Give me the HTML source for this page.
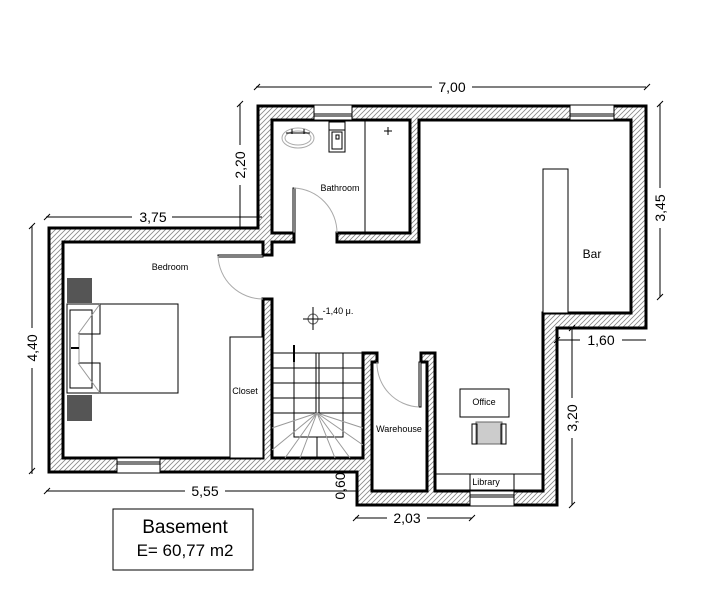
<!DOCTYPE html>
<html><head><meta charset="utf-8"><style>
html,body{margin:0;padding:0;background:#fff;width:703px;height:589px;overflow:hidden}
svg{display:block}
text{font-family:"Liberation Sans",Arial,sans-serif;fill:#000}
</style></head><body>
<svg width="703" height="589" viewBox="0 0 703 589" xmlns="http://www.w3.org/2000/svg">
<defs>
<pattern id="h" width="5" height="5" patternUnits="userSpaceOnUse">
<rect width="5" height="5" fill="#fff"/>
<path d="M-1,6 L6,-1 M-1,1 L1,-1 M4,6 L6,4" stroke="#888" stroke-width="0.8"/>
</pattern>
</defs>
<!-- walls -->
<path d="M258,106 L646,106 L646,328 L557,328 L557,505 L357,505 L357,472 L49,472 L49,228 L258,228 Z" fill="url(#h)" stroke="#000" stroke-width="3"/>
<path d="M63,242 L263,242 L263,255 L272,255 L272,242 L294,242 L294,233 L272,233 L272,120 L410,120 L410,233 L337,233 L337,242 L419,242 L419,120 L631,120 L631,313 L543,313 L543,491 L435,491 L435,353 L421,353 L421,362 L427,362 L427,491 L372,491 L372,362 L377,362 L377,353 L363,353 L363,458 L272,458 L272,299 L263,299 L263,458 L63,458 Z" fill="#fff" stroke="#000" stroke-width="3"/>
<!-- windows -->
<g fill="#fff" stroke="#000" stroke-width="1">
<rect x="314" y="105" width="38" height="15"/><line x1="314" y1="114" x2="352" y2="114"/><line x1="314" y1="116" x2="352" y2="116"/>
<rect x="570" y="105" width="44" height="15"/><line x1="570" y1="114" x2="614" y2="114"/><line x1="570" y1="116" x2="614" y2="116"/>
<rect x="117" y="458" width="43" height="15"/><line x1="117" y1="462" x2="160" y2="462"/><line x1="117" y1="464" x2="160" y2="464"/>
<rect x="470" y="491" width="44" height="15"/><line x1="470" y1="495" x2="514" y2="495"/><line x1="470" y1="497" x2="514" y2="497"/>
</g>
<!-- doors -->
<g fill="none">
<rect x="293" y="188" width="2" height="45" fill="#fff" stroke="#000" stroke-width="1"/>
<path d="M294,188 A45,45 0 0 1 337,233" stroke="#aaa"/>
<rect x="218" y="255" width="45" height="2" fill="#fff" stroke="#000" stroke-width="1"/>
<path d="M218,256 A45,45 0 0 0 263,299" stroke="#aaa"/>
<rect x="419" y="362" width="2" height="45" fill="#fff" stroke="#000" stroke-width="1"/>
<path d="M377,362 A44,44 0 0 0 419,407" stroke="#aaa"/>
</g>
<!-- bathroom fixtures -->
<g stroke="#000" fill="none" stroke-width="1">
<line x1="365" y1="120" x2="365" y2="233"/>
<ellipse cx="298" cy="138" rx="16" ry="10" stroke="#aaa"/><ellipse cx="298" cy="138" rx="13" ry="7" stroke="#aaa"/>
<line x1="286" y1="133" x2="310" y2="133"/><line x1="292" y1="129" x2="292" y2="134"/><line x1="304" y1="129" x2="304" y2="134"/>
<rect x="329" y="122" width="16" height="30"/><line x1="329" y1="130" x2="345" y2="130"/><rect x="332" y="132" width="10" height="17"/><rect x="336" y="135" width="3" height="4"/>
<line x1="384" y1="131" x2="392" y2="131"/><line x1="388" y1="127" x2="388" y2="135"/>
<!-- bar -->
<rect x="543" y="169" width="25" height="144" fill="#fff"/>
<!-- bed -->
<rect x="67" y="304" width="111" height="89"/>
<rect x="70" y="310" width="22" height="78"/>
<path d="M100,304 L100,334 L79,334 L79,363 L100,363 L100,393" />
<path d="M100,304 L78,334 M100,393 L78,363 M79,334 L79,363" stroke="#999"/>
<line x1="71" y1="348" x2="79" y2="348" stroke-width="2"/>
<rect x="230" y="337" width="33" height="121" fill="#fff"/>
<!-- office -->
<rect x="460" y="389" width="49" height="28"/>
<rect x="476" y="422" width="26" height="22" fill="#ccc" stroke="#666"/>
<rect x="472" y="424" width="5" height="20"/><rect x="501" y="424" width="5" height="20"/>
<rect x="435" y="474" width="108" height="17"/><line x1="470" y1="474" x2="470" y2="491"/><line x1="514" y1="474" x2="514" y2="491"/>
<!-- level marker -->
<circle cx="313" cy="319" r="5" stroke="#666"/><line x1="303" y1="319" x2="323" y2="319"/><line x1="313" y1="307" x2="313" y2="330"/>
</g>
<rect x="67" y="278" width="25" height="25" fill="#555"/><rect x="67" y="395" width="25" height="26" fill="#555"/>
<!-- stairs -->
<g stroke="#000" stroke-width="1" fill="none">
<path d="M272,353 H363 M272,368 H363 M272,383 H363 M272,398 H363 M272,413 H363"/>
<path d="M294,353 V437 H343 V353 M316,353 V413 M319,353 V413 M317,437 V458"/>
<path d="M317,413 L272,428 M317,413 L272,450 M317,413 L285,458 M317,413 L300,458 M317,413 L335,458 M317,413 L350,458 M317,413 L363,445 M317,413 L363,428" stroke="#999"/>
<line x1="294" y1="345" x2="294" y2="362" stroke-width="2"/>
</g>
<!-- dimensions -->
<g stroke="#000" stroke-width="1" fill="none">
<line x1="256" y1="87" x2="646" y2="87"/><path d="M254,90 L260,84 M644,90 L650,84"/>
<line x1="240" y1="104" x2="240" y2="228"/><path d="M237,107 L243,101"/>
<line x1="660" y1="104" x2="660" y2="297"/><path d="M657,107 L663,101 M657,300 L663,294"/>
<line x1="46" y1="217" x2="262" y2="217"/><path d="M44,220 L50,214"/>
<line x1="32" y1="226" x2="32" y2="474"/><path d="M29,229 L35,223 M29,474 L35,468"/>
<line x1="46" y1="491" x2="357" y2="491"/><path d="M44,494 L50,488"/>
<line x1="355" y1="518" x2="472" y2="518"/><path d="M353,521 L359,515 M469,521 L475,515"/>
<line x1="557" y1="340" x2="646" y2="340"/><path d="M554,343 L560,337"/>
<line x1="572" y1="328" x2="572" y2="505"/><path d="M569,331 L575,325 M569,508 L575,502"/>
</g>
<g font-size="14">
<rect x="432" y="80" width="40" height="14" fill="#fff"/><text x="452" y="92" text-anchor="middle">7,00</text>
<rect x="132" y="210" width="40" height="14" fill="#fff"/><text x="153" y="222" text-anchor="middle">3,75</text>
<rect x="185" y="484" width="40" height="14" fill="#fff"/><text x="205" y="496" text-anchor="middle">5,55</text>
<rect x="387" y="511" width="40" height="14" fill="#fff"/><text x="407" y="523" text-anchor="middle">2,03</text>
<rect x="580" y="333" width="42" height="14" fill="#fff"/><text x="601" y="345" text-anchor="middle">1,60</text>
<rect x="233" y="145" width="14" height="40" fill="#fff"/><text transform="translate(245,165) rotate(-90)" text-anchor="middle">2,20</text>
<rect x="653" y="188" width="14" height="40" fill="#fff"/><text transform="translate(665,208) rotate(-90)" text-anchor="middle">3,45</text>
<rect x="25" y="328" width="14" height="40" fill="#fff"/><text transform="translate(37,348) rotate(-90)" text-anchor="middle">4,40</text>
<rect x="565" y="398" width="14" height="40" fill="#fff"/><text transform="translate(577,418) rotate(-90)" text-anchor="middle">3,20</text>
<text transform="translate(345,486) rotate(-90)" text-anchor="middle">0,60</text>
</g>
<g font-size="9" text-anchor="middle">
<text x="340" y="191">Bathroom</text>
<text x="170" y="270">Bedroom</text>
<text x="245" y="394">Closet</text>
<text x="399" y="432">Warehouse</text>
<text x="484" y="405">Office</text>
<text x="486" y="485">Library</text>
<text x="338" y="314">-1,40 μ.</text>
</g>
<text x="592" y="258" font-size="12" text-anchor="middle">Bar</text>
<rect x="113" y="509" width="140" height="61" fill="#fff" stroke="#000" stroke-width="1"/>
<text x="185" y="533" font-size="19" text-anchor="middle">Basement</text>
<text x="185" y="556" font-size="17" text-anchor="middle">E= 60,77 m2</text>
</svg>
</body></html>
